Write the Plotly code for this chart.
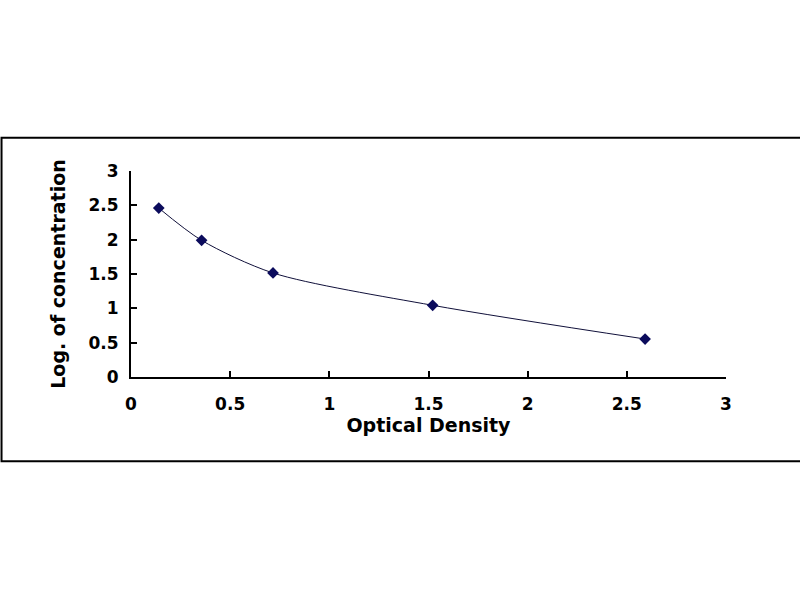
import plotly.graph_objects as go

# standard curve points
optical_density = [0.14, 0.356, 0.716, 1.521, 2.592]
log_concentration = [2.46, 1.99, 1.515, 1.044, 0.553]

tick_vals = [0, 0.5, 1, 1.5, 2, 2.5, 3]
tick_text = ["0", "0.5", "1", "1.5", "2", "2.5", "3"]

fnt = "DejaVu Sans"

fig = go.Figure()
fig.add_trace(go.Scatter(
    x=optical_density,
    y=log_concentration,
    mode="lines+markers",
    line=dict(color="#10103a", width=1, shape="spline", smoothing=0.8),
    marker=dict(symbol="diamond", size=9, color="#0b0b5c"),
    showlegend=False,
))

axis_common = dict(
    range=[0, 3],
    tickvals=tick_vals,
    ticktext=tick_text,
    showgrid=False,
    zeroline=False,
    showline=True,
    linecolor="black",
    linewidth=2,
    ticks="inside",
    ticklen=6,
    tickwidth=2,
    tickcolor="black",
    tickfont=dict(family=fnt, size=17, color="black", weight="bold"),
)

fig.update_xaxes(
    **axis_common,
    ticklabelstandoff=11,
    title=dict(text="Optical Density", standoff=5,
               font=dict(family=fnt, size=19, color="black", weight="bold")),
)
fig.update_yaxes(
    **axis_common,
    ticklabelstandoff=7,
    title=dict(text="Log. of concentration", standoff=18,
               font=dict(family=fnt, size=19, color="black", weight="bold")),
)

# outer frame around the chart
fig.add_shape(type="rect", xref="paper", yref="paper",
              x0=-0.2176, x1=1.16, y0=-0.409, y1=1.161,
              line=dict(color="black", width=2), layer="below")

fig.update_layout(
    width=800, height=600,
    margin=dict(l=131, r=74, t=171, b=223),
    paper_bgcolor="white",
    plot_bgcolor="white",
)

# drop the default 8px page margin so the figure sits at the window corner
fig.write_html("out.html", config={"displayModeBar": False},
               post_script="document.body.style.margin='0';")
